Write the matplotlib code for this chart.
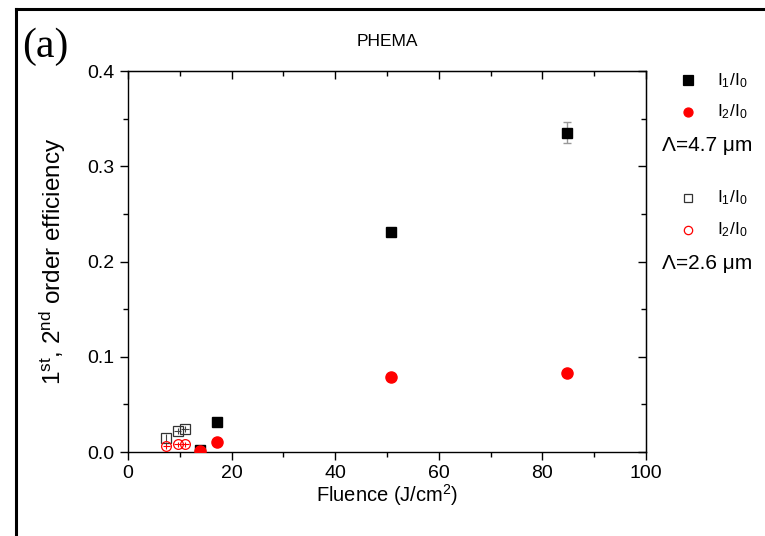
"""
PHEMA grating: 1st and 2nd order diffraction efficiency vs fluence.
"""

import matplotlib
matplotlib.use("Agg")
import matplotlib.pyplot as plt
from matplotlib.lines import Line2D
from matplotlib.ticker import MultipleLocator, NullFormatter, FormatStrFormatter

plt.rcParams['font.family'] = ['Liberation Sans', 'DejaVu Sans']
plt.rcParams['mathtext.fontset'] = 'custom'
plt.rcParams['mathtext.rm'] = 'Liberation Sans'
plt.rcParams['mathtext.it'] = 'Liberation Sans'

# Lambda = 4.7 um (filled symbols)
fluence_47 = [14.0, 17.2, 50.8, 84.7]
i1_47 = [0.002, 0.031, 0.231, 0.335]
i1_47_err = [0.0, 0.0, 0.0, 0.011]
i2_47 = [0.001, 0.011, 0.079, 0.083]

# Lambda = 2.6 um (open symbols)
fluence_26 = [7.4, 9.6, 11.0]
i1_26 = [0.0145, 0.022, 0.024]
i2_26 = [0.006, 0.008, 0.008]
x_err_26 = [0.0, 0.7, 0.7]
y_err_26 = [0.004, 0.003, 0.003]

fig = plt.figure(figsize=(7.65, 5.36), dpi=100)
ax = fig.add_axes([0.1673, 0.1567, 0.677, 0.7108])

# open symbols with their small error crosses
ax.errorbar(fluence_26, i1_26, xerr=x_err_26, yerr=y_err_26, fmt='s', ms=7,
            mfc='none', mec='#333333', mew=0.9, ecolor='#444444', elinewidth=0.8,
            capsize=0, zorder=3)
ax.errorbar(fluence_26, i2_26, xerr=0.7, yerr=0.003, fmt='o', ms=7,
            mfc='none', mec='red', mew=0.9, ecolor='red', elinewidth=0.8,
            capsize=0, zorder=3)

# filled symbols
ax.errorbar(fluence_47, i1_47, yerr=i1_47_err, fmt='s', ms=7, color='black',
            ecolor='#999999', elinewidth=1.0, capsize=3, capthick=1.0, zorder=4)
ax.plot(fluence_47, i2_47, 'o', ms=8, color='red', zorder=5)

ax.set_xlim(0, 100)
ax.set_ylim(0, 0.4)
ax.xaxis.set_major_locator(MultipleLocator(20))
ax.xaxis.set_minor_locator(MultipleLocator(10))
ax.yaxis.set_major_locator(MultipleLocator(0.1))
ax.yaxis.set_minor_locator(MultipleLocator(0.05))
ax.yaxis.set_major_formatter(FormatStrFormatter('%.1f'))

ax.tick_params(which='both', direction='out', labelsize=14, width=1.0)
ax.tick_params(which='major', length=6)
ax.tick_params(which='minor', length=3.5)
for spine in ax.spines.values():
    spine.set_linewidth(1.0)

# inward ticks on the top and right spines, no labels
sx = ax.secondary_xaxis('top')
sx.xaxis.set_major_locator(MultipleLocator(20))
sx.xaxis.set_minor_locator(MultipleLocator(10))
sx.xaxis.set_major_formatter(NullFormatter())
sx.tick_params(which='both', direction='in', width=1.0)
sx.tick_params(which='major', length=6)
sx.tick_params(which='minor', length=3.5)
sy = ax.secondary_yaxis('right')
sy.yaxis.set_major_locator(MultipleLocator(0.1))
sy.yaxis.set_minor_locator(MultipleLocator(0.05))
sy.yaxis.set_major_formatter(NullFormatter())
sy.tick_params(which='both', direction='in', width=1.0)
sy.tick_params(which='major', length=6)
sy.tick_params(which='minor', length=3.5)

ax.set_xlabel('Fluence (J/cm$^2$)', fontsize=14.5, labelpad=0)
ax.set_ylabel('1$^{st}$, 2$^{nd}$ order efficiency', fontsize=17.5, labelpad=14)
ax.set_title('PHEMA', fontsize=12.5, pad=18)

fig.text(0.029, 0.913, '(a)', fontsize=30, family='Liberation Serif',
         ha='left', va='center')

# legend on the right
leg_items = [
    (0.850, 's', 'black', 'black', 'I$_1$/I$_0$'),
    (0.791, 'o', 'red', 'red', 'I$_2$/I$_0$'),
    (0.631, 's', 'none', '#333333', 'I$_1$/I$_0$'),
    (0.571, 'o', 'none', 'red', 'I$_2$/I$_0$'),
]
for y, mk, fc, ec, label in leg_items:
    fig.add_artist(Line2D([0.899], [y], marker=mk, ms=6.5 if fc != 'none' else 6,
                          mfc=fc, mec=ec, mew=0.9, ls='none',
                          transform=fig.transFigure))
    fig.text(0.937, y, label, fontsize=12.5, ha='left', va='center')
fig.text(0.866, 0.729, 'Λ=4.7 μm', fontsize=15, ha='left', va='center')
fig.text(0.866, 0.508, 'Λ=2.6 μm', fontsize=15, ha='left', va='center')

# figure frame (top and left edges)
fig.add_artist(Line2D([0.021, 1.0], [0.983, 0.983], color='black', lw=2.2,
                      transform=fig.transFigure))
fig.add_artist(Line2D([0.021, 0.021], [0.0, 0.983], color='black', lw=2.2,
                      transform=fig.transFigure))

fig.savefig('out.png', dpi=100)
